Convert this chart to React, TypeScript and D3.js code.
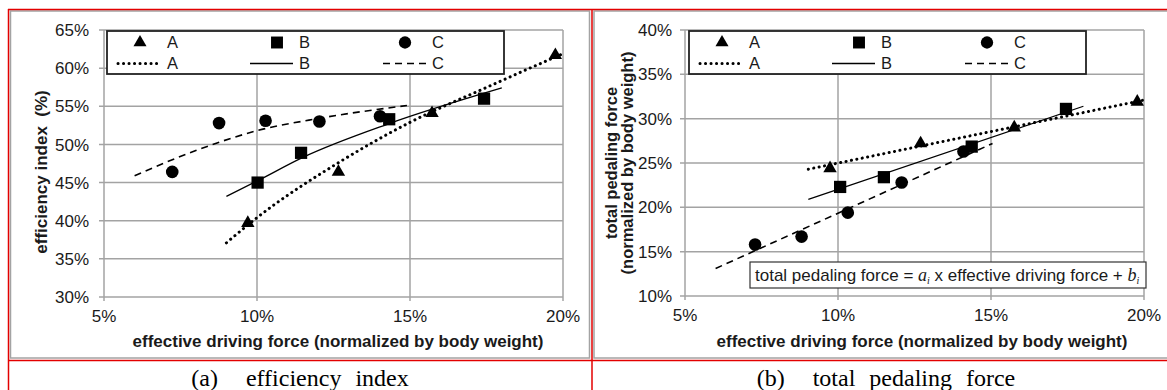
import React, { useEffect, useRef } from "react";
import * as d3 from "d3";

const xTicks = [5, 10, 15, 20];
const effTicks = [30, 35, 40, 45, 50, 55, 60, 65];
const forceTicks = [10, 15, 20, 25, 30, 35, 40];
const groups = ["A", "B", "C"];

// (a) efficiency index
const effA = [
  { x: 9.7, y: 39.7 },
  { x: 12.66, y: 46.4 },
  { x: 15.72, y: 54.1 },
  { x: 19.75, y: 61.7 },
];
const effB = [
  { x: 10.02, y: 45.0 },
  { x: 11.44, y: 48.9 },
  { x: 14.32, y: 53.3 },
  { x: 17.42, y: 56.0 },
];
const effC = [
  { x: 7.23, y: 46.4 },
  { x: 8.76, y: 52.8 },
  { x: 10.28, y: 53.1 },
  { x: 12.04, y: 53.0 },
  { x: 14.02, y: 53.7 },
];
const effTrendA = [
  { x: 9, y: 37.1 },
  { x: 10, y: 40.4 },
  { x: 12.7, y: 47.7 },
  { x: 15, y: 52.9 },
  { x: 17.4, y: 57.3 },
  { x: 20, y: 61.9 },
];
const effTrendB = [
  { x: 9, y: 43.2 },
  { x: 10, y: 45.2 },
  { x: 11.5, y: 48.3 },
  { x: 14.3, y: 52.7 },
  { x: 18, y: 57.4 },
];
const effTrendC = [
  { x: 6, y: 45.9 },
  { x: 8, y: 49.2 },
  { x: 10, y: 51.8 },
  { x: 12, y: 53.4 },
  { x: 14.9, y: 55.1 },
];

// (b) total pedaling force
const forceA = [
  { x: 9.74, y: 24.4 },
  { x: 12.7, y: 27.2 },
  { x: 15.76, y: 29.0 },
  { x: 19.78, y: 31.9 },
];
const forceB = [
  { x: 10.07, y: 22.3 },
  { x: 11.5, y: 23.4 },
  { x: 14.37, y: 26.85 },
  { x: 17.45, y: 31.1 },
];
const forceC = [
  { x: 7.29, y: 15.8 },
  { x: 8.81, y: 16.7 },
  { x: 10.32, y: 19.4 },
  { x: 12.08, y: 22.8 },
  { x: 14.1, y: 26.3 },
];
const forceTrendA = [
  { x: 9.03, y: 24.3 },
  { x: 20, y: 32.1 },
];
const forceTrendB = [
  { x: 9.03, y: 20.9 },
  { x: 18.02, y: 31.4 },
];
const forceTrendC = [
  { x: 6.0, y: 13.1 },
  { x: 15.05, y: 27.2 },
];

const RED = "#e30000";
const GRID = "#a3a3a3";
const INK = "#1a1a1a";
const SANS = "'Liberation Sans', Arial, sans-serif";
const SERIF = "'Liberation Serif', 'Times New Roman', serif";

const symbols = [d3.symbolTriangle, d3.symbolSquare, d3.symbolCircle];
const symbolSizes = [78, 150, 125];
const lineStyles = [
  { width: 3, dash: "0.1,5.4", cap: "round" },
  { width: 1.3, dash: null, cap: "butt" },
  { width: 1.6, dash: "7,5", cap: "butt" },
];

function drawPanel(svg, cfg) {
  const x = d3.scaleLinear().domain([5, 20]).range(cfg.xRange);
  const y = d3.scaleLinear().domain(cfg.yDomain).range(cfg.yRange);
  const g = svg.append("g");
  const [x0, x1] = cfg.xRange;
  const [yb, yt] = cfg.yRange;

  // gridlines
  g.selectAll(".hg")
    .data(cfg.yTicks)
    .join("line")
    .attr("x1", x0 - 5)
    .attr("x2", x1)
    .attr("y1", (d) => y(d))
    .attr("y2", (d) => y(d))
    .attr("stroke", GRID)
    .attr("stroke-width", 1.5);
  g.selectAll(".vg")
    .data(xTicks)
    .join("line")
    .attr("x1", (d) => x(d))
    .attr("x2", (d) => x(d))
    .attr("y1", yt)
    .attr("y2", yb + 4)
    .attr("stroke", GRID)
    .attr("stroke-width", 1.5);

  // tick labels
  g.selectAll(".yl")
    .data(cfg.yTicks)
    .join("text")
    .attr("x", x0 - cfg.yLabelGap)
    .attr("y", (d) => y(d))
    .attr("dy", "0.36em")
    .attr("text-anchor", "end")
    .attr("font-family", SANS)
    .attr("font-size", 17)
    .attr("fill", INK)
    .text((d) => `${d}%`);
  g.selectAll(".xl")
    .data(xTicks)
    .join("text")
    .attr("x", (d) => x(d))
    .attr("y", yb + 25)
    .attr("text-anchor", "middle")
    .attr("font-family", SANS)
    .attr("font-size", 17)
    .attr("fill", INK)
    .text((d) => `${d}%`);

  // axis titles
  g.append("text")
    .attr("x", cfg.xTitleX)
    .attr("y", 347)
    .attr("text-anchor", "middle")
    .attr("font-family", SANS)
    .attr("font-weight", "bold")
    .attr("font-size", 17)
    .attr("fill", INK)
    .text("effective driving force (normalized by body weight)");
  cfg.yTitle.forEach((line, i) => {
    g.append("text")
      .attr(
        "transform",
        `translate(${cfg.yTitleX + i * 15.5},${cfg.yTitleY}) rotate(-90)`
      )
      .attr("text-anchor", "middle")
      .attr("dy", "0.36em")
      .attr("font-family", SANS)
      .attr("font-weight", "bold")
      .attr("font-size", cfg.yTitleSize)
      .attr("fill", INK)
      .style("white-space", "pre")
      .text(line);
  });

  // trend lines
  const line = d3
    .line()
    .x((d) => x(d.x))
    .y((d) => y(d.y))
    .curve(d3.curveMonotoneX);
  cfg.trends.forEach((data, i) => {
    const s = lineStyles[i];
    g.append("path")
      .datum(data)
      .attr("fill", "none")
      .attr("stroke", "#000")
      .attr("stroke-width", s.width)
      .attr("stroke-linecap", s.cap)
      .attr("stroke-dasharray", s.dash)
      .attr("d", line);
  });

  // markers
  cfg.points.forEach((data, i) => {
    g.selectAll(`.m${i}`)
      .data(data)
      .join("path")
      .attr("transform", (d) => `translate(${x(d.x)},${y(d.y)})`)
      .attr("d", d3.symbol().type(symbols[i]).size(symbolSizes[i]))
      .attr("fill", "#000");
  });

  // legend
  const lx = cfg.legendX;
  const lg = g.append("g").attr("transform", `translate(${lx},31)`);
  lg.append("rect")
    .attr("width", 397)
    .attr("height", 43)
    .attr("fill", "#fff")
    .attr("stroke", "#222")
    .attr("stroke-width", 1.8);
  const markX = [33, 170, 298];
  const textX = [60, 192, 325];
  const lineX = [
    [11, 52],
    [143, 186],
    [276, 320],
  ];
  groups.forEach((name, i) => {
    lg.append("path")
      .attr("transform", `translate(${markX[i]},11.5)`)
      .attr("d", d3.symbol().type(symbols[i]).size(symbolSizes[i] * 0.95))
      .attr("fill", "#000");
    lg.append("text")
      .attr("x", textX[i])
      .attr("y", 11.5)
      .attr("dy", "0.36em")
      .attr("font-family", SANS)
      .attr("font-size", 16.5)
      .attr("fill", INK)
      .text(name);
    const s = lineStyles[i];
    lg.append("line")
      .attr("x1", lineX[i][0])
      .attr("x2", lineX[i][1])
      .attr("y1", 32.5)
      .attr("y2", 32.5)
      .attr("stroke", "#000")
      .attr("stroke-width", s.width)
      .attr("stroke-linecap", s.cap)
      .attr("stroke-dasharray", s.dash);
    lg.append("text")
      .attr("x", textX[i])
      .attr("y", 32.5)
      .attr("dy", "0.36em")
      .attr("font-family", SANS)
      .attr("font-size", 16.5)
      .attr("fill", INK)
      .text(name);
  });
}

export default function App() {
  const svgRef = useRef(null);

  useEffect(() => {
    const svg = d3.select(svgRef.current);
    svg.selectAll("*").remove();

    svg.append("rect").attr("width", 1167).attr("height", 390).attr("fill", "#fff");

    // chart area borders
    svg.append("rect")
      .attr("x", 10.5)
      .attr("y", 11)
      .attr("width", 579)
      .attr("height", 347)
      .attr("fill", "none")
      .attr("stroke", GRID)
      .attr("stroke-width", 1.5);
    svg.append("rect")
      .attr("x", 594)
      .attr("y", 11)
      .attr("width", 600)
      .attr("height", 347)
      .attr("fill", "none")
      .attr("stroke", GRID)
      .attr("stroke-width", 1.5);

    drawPanel(svg, {
      xRange: [104, 563],
      yDomain: [30, 65],
      yRange: [297, 30],
      yTicks: effTicks,
      yLabelGap: 15,
      yTitle: ["efficiency index  (%)"],
      yTitleSize: 17,
      yTitleX: 41,
      yTitleY: 172,
      xTitleX: 338,
      legendX: 107,
      points: [effA, effB, effC],
      trends: [effTrendA, effTrendB, effTrendC],
    });

    drawPanel(svg, {
      xRange: [685, 1144],
      yDomain: [10, 40],
      yRange: [296, 30],
      yTicks: forceTicks,
      yLabelGap: 13,
      yTitle: ["total pedaling force", "(normalized by body weight)"],
      yTitleSize: 16.5,
      yTitleX: 611.5,
      yTitleY: 163,
      xTitleX: 922,
      legendX: 689,
      points: [forceA, forceB, forceC],
      trends: [forceTrendA, forceTrendB, forceTrendC],
    });

    // equation box
    const eq = svg.append("g");
    eq.append("rect")
      .attr("x", 750)
      .attr("y", 262)
      .attr("width", 396)
      .attr("height", 26)
      .attr("fill", "#fff")
      .attr("stroke", "#333")
      .attr("stroke-width", 1.2);
    const t = eq
      .append("text")
      .attr("x", 755)
      .attr("y", 281)
      .attr("font-family", SANS)
      .attr("font-size", 17)
      .attr("fill", INK);
    t.append("tspan").text("total pedaling force = ");
    t.append("tspan").attr("font-family", SERIF).attr("font-style", "italic").attr("font-size", 18).text("a");
    t.append("tspan").attr("font-family", SERIF).attr("font-style", "italic").attr("font-size", 10).attr("dy", 3).text("i");
    t.append("tspan").attr("dy", -3).text(" x effective driving force + ");
    t.append("tspan").attr("font-family", SERIF).attr("font-style", "italic").attr("font-size", 18).text("b");
    t.append("tspan").attr("font-family", SERIF).attr("font-style", "italic").attr("font-size", 10).attr("dy", 3).text("i");

    // table borders
    const b = svg.append("g").attr("stroke", RED).attr("stroke-width", 1.5);
    b.append("line").attr("x1", 8).attr("x2", 1167).attr("y1", 9.5).attr("y2", 9.5);
    b.append("line").attr("x1", 8).attr("x2", 1167).attr("y1", 360.5).attr("y2", 360.5);
    b.append("line").attr("x1", 8.5).attr("x2", 8.5).attr("y1", 9).attr("y2", 390);
    b.append("line").attr("x1", 592).attr("x2", 592).attr("y1", 9).attr("y2", 390);

    // captions
    const captions = [
      { text: "(a)  efficiency index", x: 300 },
      { text: "(b)  total pedaling force", x: 886 },
    ];
    svg.selectAll(".cap")
      .data(captions)
      .join("text")
      .attr("x", (d) => d.x)
      .attr("y", 386)
      .attr("text-anchor", "middle")
      .attr("font-family", SERIF)
      .attr("font-size", 24)
      .attr("word-spacing", 8)
      .style("white-space", "pre")
      .attr("fill", "#000")
      .text((d) => d.text);
  }, []);

  return (
    <svg
      ref={svgRef}
      width={1167}
      height={390}
      style={{ position: "absolute", left: 0, top: 0 }}
    />
  );
}
